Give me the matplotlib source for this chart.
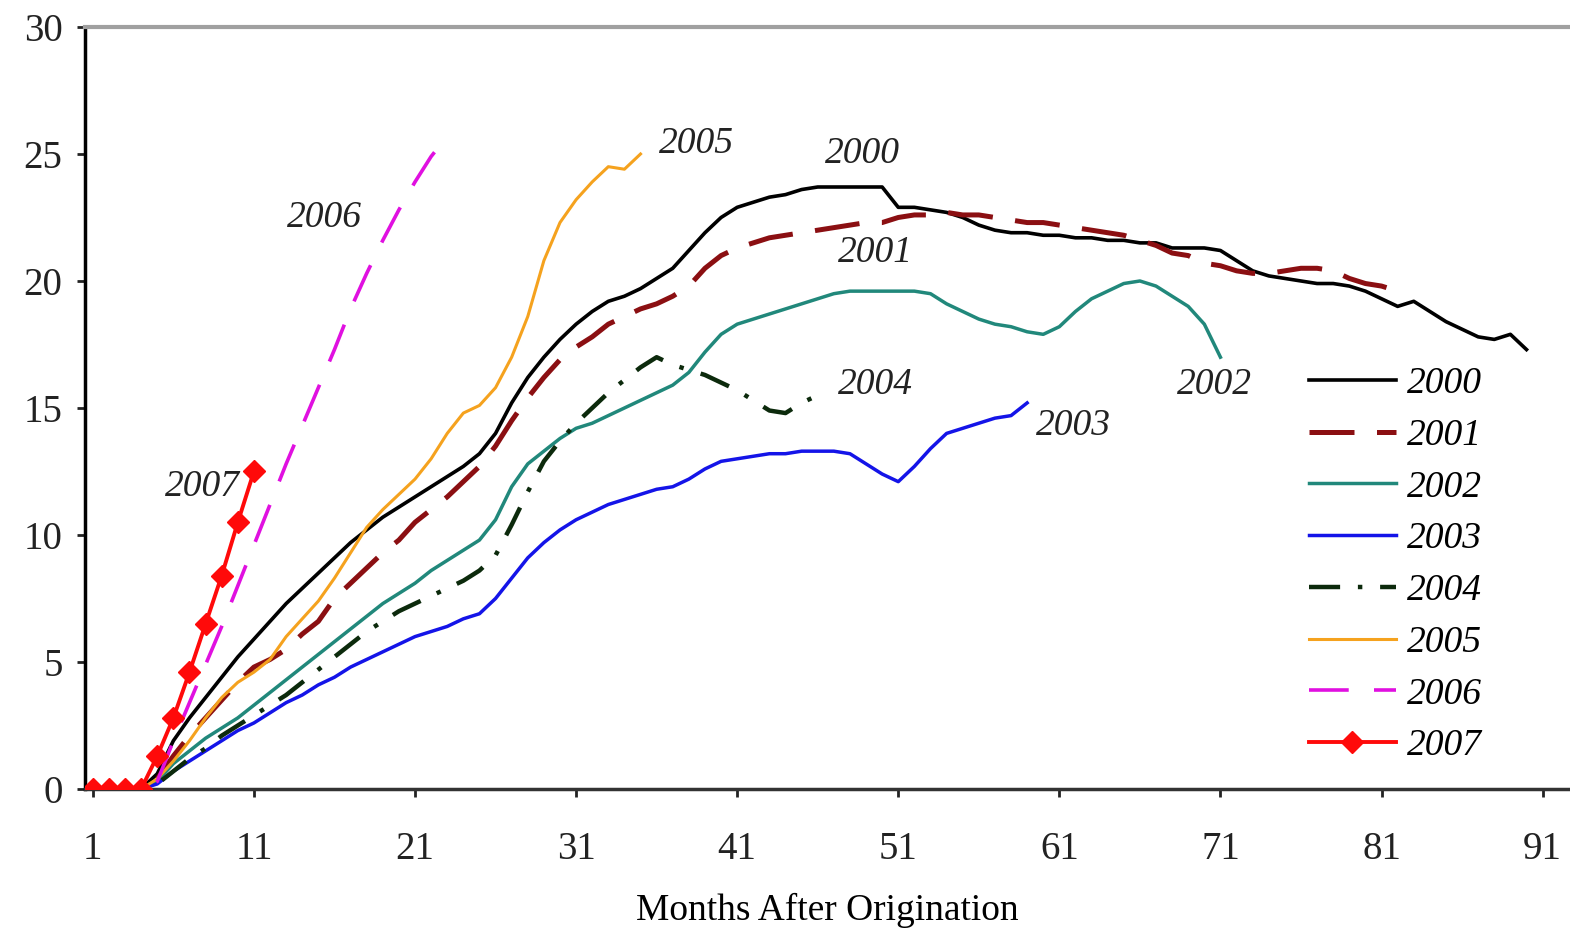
import matplotlib
matplotlib.use("Agg")
import matplotlib.pyplot as plt
import numpy as np

# cumulative values by months after origination, one list per vintage
v2000 = [0, 0, 0, 0, 0.6, 1.9, 2.8, 3.6, 4.4, 5.2, 5.9, 6.6, 7.3, 7.9, 8.5, 9.1, 9.7, 10.2, 10.7, 11.1,
         11.5, 11.9, 12.3, 12.7, 13.2, 14.0, 15.2, 16.2, 17.0, 17.7, 18.3, 18.8, 19.2, 19.4, 19.7, 20.1,
         20.5, 21.2, 21.9, 22.5, 22.9, 23.1, 23.3, 23.4, 23.6, 23.7, 23.7, 23.7, 23.7, 23.7, 22.9, 22.9,
         22.8, 22.7, 22.5, 22.2, 22.0, 21.9, 21.9, 21.8, 21.8, 21.7, 21.7, 21.6, 21.6, 21.5, 21.5, 21.3,
         21.3, 21.3, 21.2, 20.8, 20.4, 20.2, 20.1, 20.0, 19.9, 19.9, 19.8, 19.6, 19.3, 19.0, 19.2, 18.8,
         18.4, 18.1, 17.8, 17.7, 17.9, 17.3]
v2001 = [0, 0, 0, 0, 0.4, 1.3, 2.1, 2.8, 3.5, 4.2, 4.8, 5.1, 5.5, 6.1, 6.6, 7.5, 8.1, 8.7, 9.3, 9.8,
         10.5, 11.0, 11.5, 12.1, 12.7, 13.5, 14.5, 15.4, 16.2, 16.9, 17.4, 17.8, 18.3, 18.6, 18.9, 19.1,
         19.4, 19.8, 20.5, 21.0, 21.3, 21.5, 21.7, 21.8, 21.9, 22.0, 22.1, 22.2, 22.3, 22.3, 22.5, 22.6,
         22.6, 22.7, 22.6, 22.6, 22.5, 22.4, 22.3, 22.3, 22.2, 22.1, 22.0, 21.9, 21.8, 21.6, 21.4, 21.1,
         21.0, 20.7, 20.6, 20.4, 20.3, 20.3, 20.4, 20.5, 20.5, 20.4, 20.1, 19.9, 19.8, 19.6]
v2002 = [0, 0, 0, 0, 0.3, 1.0, 1.5, 2.0, 2.4, 2.8, 3.3, 3.8, 4.3, 4.8, 5.3, 5.8, 6.3, 6.8, 7.3, 7.7,
         8.1, 8.6, 9.0, 9.4, 9.8, 10.6, 11.9, 12.8, 13.3, 13.8, 14.2, 14.4, 14.7, 15.0, 15.3, 15.6, 15.9,
         16.4, 17.2, 17.9, 18.3, 18.5, 18.7, 18.9, 19.1, 19.3, 19.5, 19.6, 19.6, 19.6, 19.6, 19.6, 19.5,
         19.1, 18.8, 18.5, 18.3, 18.2, 18.0, 17.9, 18.2, 18.8, 19.3, 19.6, 19.9, 20.0, 19.8, 19.4, 19.0,
         18.3, 17.0]
v2003 = [0, 0, 0, 0, 0.2, 0.7, 1.1, 1.5, 1.9, 2.3, 2.6, 3.0, 3.4, 3.7, 4.1, 4.4, 4.8, 5.1, 5.4, 5.7,
         6.0, 6.2, 6.4, 6.7, 6.9, 7.5, 8.3, 9.1, 9.7, 10.2, 10.6, 10.9, 11.2, 11.4, 11.6, 11.8, 11.9,
         12.2, 12.6, 12.9, 13.0, 13.1, 13.2, 13.2, 13.3, 13.3, 13.3, 13.2, 12.8, 12.4, 12.1, 12.7, 13.4,
         14.0, 14.2, 14.4, 14.6, 14.7, 15.2]
v2004 = [0, 0, 0, 0, 0.2, 0.7, 1.2, 1.6, 2.1, 2.5, 2.9, 3.3, 3.7, 4.2, 4.7, 5.2, 5.7, 6.2, 6.6, 7.0,
         7.3, 7.6, 7.9, 8.2, 8.6, 9.2, 10.4, 11.7, 12.9, 13.7, 14.4, 15.0, 15.6, 16.1, 16.6, 17.0, 16.7,
         16.5, 16.3, 16.0, 15.7, 15.3, 14.9, 14.8, 15.2, 15.5]
v2005 = [0, 0, 0, 0, 0.4, 1.1, 1.9, 2.8, 3.6, 4.2, 4.6, 5.1, 6.0, 6.7, 7.4, 8.3, 9.3, 10.3, 11.0, 11.6,
         12.2, 13.0, 14.0, 14.8, 15.1, 15.8, 17.0, 18.6, 20.8, 22.3, 23.2, 23.9, 24.5, 24.4, 25.0]
v2006 = [0, 0, 0, 0, 0.3, 1.9, 3.4, 4.9, 6.4, 8.0, 9.6, 11.2, 12.8, 14.3, 15.8, 17.3, 18.9, 20.3, 21.6,
         22.8, 23.9, 24.9, 25.7]
v2007 = [0, 0, 0, 0, 1.3, 2.8, 4.6, 6.5, 8.4, 10.5, 12.5]

years = ["2000", "2001", "2002", "2003", "2004", "2005", "2006", "2007"]
series = [v2000, v2001, v2002, v2003, v2004, v2005, v2006, v2007]
colors = ["#000000", "#8B0F12", "#21887B", "#1414E8", "#0C2A0C", "#F5A21E", "#E010E0", "#FF0A0A"]
styles = ["-", (0, (9, 4.5)), "-", "-", (0, (7, 4, 1, 4)), "-", (0, (11, 7)), "-"]
widths = [2.6, 3.6, 2.5, 2.5, 3.2, 2.2, 2.6, 2.8]

# in-plot labels: (x month, y value)
label_pos = {
    "2006": (15.4, 22.5), "2005": (38.5, 25.4), "2000": (48.8, 25.0), "2001": (49.6, 21.1),
    "2004": (49.6, 15.9), "2002": (70.6, 15.9), "2003": (61.9, 14.3), "2007": (7.8, 11.9),
}

plt.rcParams["font.family"] = ["Liberation Serif", "DejaVu Serif"]

fig = plt.figure(figsize=(15.7, 9.3), dpi=100)
ax = fig.add_axes([0.054, 0.1516, 0.946, 0.8194])

for yr, vals, c, ls, lw in zip(years, series, colors, styles, widths):
    months = np.arange(1, len(vals) + 1)
    if yr == "2007":
        ax.plot(months, vals, color=c, lw=lw, marker="D", markersize=11, label=yr, zorder=5)
    else:
        ax.plot(months, vals, color=c, lw=lw, linestyle=ls, label=yr)

for yr, (x, y) in label_pos.items():
    ax.text(x, y, yr, fontsize=27, style="italic", ha="center", va="center", color="#222222")

ax.set_xlim(0.5, 92.7)
ax.set_ylim(0, 30)
ax.set_xticks(np.arange(1, 92, 10))
ax.set_yticks(np.arange(0, 31, 5))

ax.spines["right"].set_visible(False)
ax.spines["top"].set_color("#A0A0A0")
ax.spines["top"].set_linewidth(3)
ax.spines["left"].set_linewidth(2.5)
ax.spines["bottom"].set_linewidth(2.5)
ax.spines["bottom"].set_color("#333333")
ax.tick_params(axis="both", labelsize=28, width=2, length=6, direction="out", colors="#222222")
ax.tick_params(axis="x", pad=24)
ax.tick_params(axis="y", pad=10)

ax.set_xlabel("Months After Origination", fontsize=27, labelpad=18)

leg = ax.legend(loc="upper left", bbox_to_anchor=(0.822, 0.626), bbox_transform=fig.transFigure,
                frameon=False, prop={"size": 27, "style": "italic"}, handlelength=2.3,
                handletextpad=0.3, labelspacing=0.46, borderpad=0)

fig.savefig("out.png", dpi=100)
